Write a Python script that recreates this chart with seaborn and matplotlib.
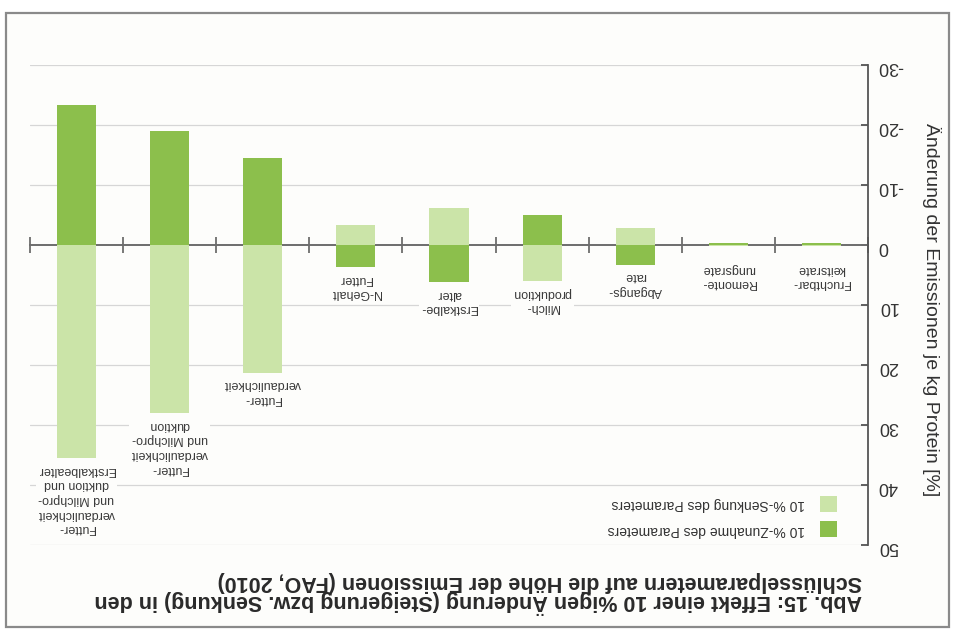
import numpy as np
import pandas as pd
import matplotlib
matplotlib.use("Agg")
import matplotlib.pyplot as plt
from matplotlib.patches import Rectangle
import seaborn as sns

# Parameters (index 0 is the first category on the value axis side)
categories = [
    "Fruchtbar-\nkeitsrate",
    "Remonte-\nrungsrate",
    "Abgangs-\nrate",
    "Milch-\nproduktion",
    "Erstkalbe-\nalter",
    "N-Gehalt\nFutter",
    "Futter-\nverdaulichkeit",
    "Futter-\nverdaulichkeit\nund Milchpro-\nduktion",
    "Futter-\nverdaulichkeit\nund Milchpro-\nduktion und\nErstkalbealter",
]
# Change of emissions per kg protein [%]
zunahme = [-0.3, -0.3, 3.3, -5.0, 6.2, 3.7, -14.5, -19.0, -23.3]
senkung = [0.2, 0.2, -2.8, 6.0, -6.2, -3.3, 21.3, 28.0, 35.5]

label_up = "10 %-Zunahme des Parameters"
label_down = "10 %-Senkung des Parameters"
yticks = [-30, -20, -10, 0, 10, 20, 30, 40, 50]

title_1 = "Abb. 15: Effekt einer 10 %igen Änderung (Steigerung bzw. Senkung) in den"
title_2 = "Schlüsselparametern auf die Höhe der Emissionen (FAO, 2010)"
ylabel = "Änderung der Emissionen je kg Protein [%]"

df = pd.DataFrame({
    "Parameter": categories * 2,
    "Aenderung": zunahme + senkung,
    "Variante": [label_up] * len(categories) + [label_down] * len(categories),
})

sns.set_theme(style="white")
plt.rcParams["font.family"] = ["Liberation Sans", "DejaVu Sans"]
plt.rcParams["axes.unicode_minus"] = False

bg = "#fdfdfb"
dark = "#8cbf4c"
light = "#cbe4a8"
txt = "#333333"

fig = plt.figure(figsize=(9.54, 6.3), dpi=100, facecolor="white")
fig.add_artist(Rectangle((6 / 954, 3 / 630), 943 / 954, 614 / 630,
                         transform=fig.transFigure, facecolor=bg,
                         edgecolor="#8a8a8a", lw=1.6, zorder=0))

ax = fig.add_axes([30 / 954, 85 / 630, 838 / 954, 480 / 630])
ax.set_facecolor("none")

sns.barplot(data=df, x="Parameter", y="Aenderung", hue="Variante",
            order=categories, hue_order=[label_up, label_down],
            palette={label_up: dark, label_down: light}, dodge=False,
            width=0.42, linewidth=0, saturation=1, errorbar=None,
            zorder=2, ax=ax)

n = len(categories)
ax.set_xlim(n - 0.5, -0.5)
ax.set_ylim(50, -30)

# spines: value axis on the right, zero line as category axis
ax.spines["top"].set_visible(False)
ax.spines["left"].set_visible(False)
ax.spines["right"].set_color("#555555")
ax.spines["right"].set_linewidth(1.3)
ax.spines["bottom"].set_position(("data", 0))
ax.spines["bottom"].set_color("#6d6d6d")
ax.spines["bottom"].set_linewidth(1.4)
ax.spines["bottom"].set_zorder(1.5)

ax.set_xticks(np.arange(-0.5, n), labels=[""] * (n + 1))
ax.tick_params(axis="x", bottom=True, direction="inout", length=11,
               width=1.3, color="#6d6d6d")
ax.set_xlabel("")

ax.yaxis.tick_right()
ax.set_yticks(yticks, labels=[str(v) for v in yticks])
ax.tick_params(axis="y", right=True, direction="in", length=5, width=1.3,
               color="#555555", labelsize=13, labelcolor=txt, pad=7,
               labelrotation=180)

ax.set_axisbelow(True)
ax.grid(axis="y", color="#d6d6d6", lw=0.9)
ax.grid(axis="x", visible=False)
for line, val in zip(ax.get_ygridlines(), yticks):
    if val == 0:
        line.set_visible(False)

ax.set_ylabel(ylabel, fontsize=14, color=txt)
ax.yaxis.set_label_position("right")
ax.yaxis.label.set(rotation=270, rotation_mode="default", va="center", ha="center")
ax.yaxis.set_label_coords(1.076, 0.49)

# category labels beyond the positive bar end
for i, cat in enumerate(categories):
    end = max(zunahme[i], senkung[i], 2.0)
    ax.annotate(cat, xy=(i, end), xytext=(0, -4), textcoords="offset points",
                ha="center", va="top", rotation=180, fontsize=9,
                linespacing=1.3, color="#3a3a3a", multialignment="center",
                bbox=dict(fc=bg, ec="none", pad=1.5), zorder=3)

old = ax.get_legend()
handles = list(old.legend_handles)
labels = [t.get_text() for t in old.get_texts()]
old.remove()
leg = ax.legend(handles[::-1], labels[::-1], loc="lower right",
                bbox_to_anchor=(0.963, 0.017), frameon=False, markerfirst=False,
                fontsize=10, handlelength=1.2, handleheight=1.35,
                handletextpad=1.1, labelspacing=0.7, borderpad=0,
                borderaxespad=0)
for t in leg.get_texts():
    t.set_rotation(180)
    t.set_color(txt)

fig.text(862 / 954, 1 - 602 / 630, title_1, rotation=180, ha="right",
         va="center", fontsize=15.5, fontweight="bold", color="#2a2a2a")
fig.text(862 / 954, 1 - 581 / 630, title_2, rotation=180, ha="right",
         va="center", fontsize=15.5, fontweight="bold", color="#2a2a2a")

fig.savefig("out.png", dpi=100, facecolor="white")
